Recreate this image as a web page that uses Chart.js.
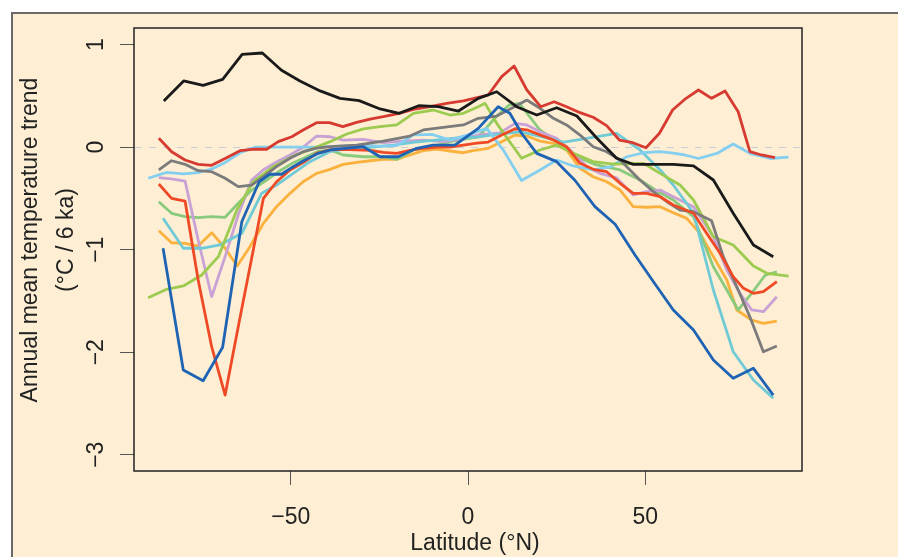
<!DOCTYPE html>
<html><head><meta charset="utf-8">
<script src="https://cdn.jsdelivr.net/npm/chart.js@4.4.1/dist/chart.umd.min.js"></script>
<style>html,body{margin:0;padding:0;background:#fff;overflow:hidden}canvas{display:block}</style>
</head><body>
<canvas id="c" width="898" height="557"></canvas>
<script>
const xTickValues = [-50, 0, 50];
const yTickValues = [1, 0, -1, -2, -3];
const xTitle = "Latitude (°N)";
const yTitle1 = "Annual mean temperature trend";
const yTitle2 = "(°C / 6 ka)";

const blackLat = [-85.8,-80.2,-74.7,-69.2,-63.7,-58.0,-52.6,-47.4,-41.7,-36.1,-30.7,-24.8,-19.4,-13.9,-8.4,-2.7,2.9,8.1,13.7,19.4,25.0,30.7,36.3,41.9,46.6,52.3,57.9,63.6,69.2,74.8,80.5,86.1];
const blackVal = [0.45,0.646,0.604,0.662,0.906,0.919,0.75,0.646,0.549,0.477,0.454,0.373,0.331,0.405,0.395,0.353,0.477,0.541,0.395,0.314,0.385,0.304,0.09,-0.108,-0.167,-0.167,-0.167,-0.183,-0.32,-0.645,-0.954,-1.068];

const darkRedLat = [-87.2,-83.6,-79.8,-76.1,-72.3,-68.1,-64.3,-60.1,-56.8,-53.5,-49.7,-46.5,-42.7,-39.1,-35.3,-31.4,-27.6,-23.9,-19.4,-15.4,-10.7,-6.0,-1.3,2.9,5.7,9.5,13.0,16.6,20.5,24.3,27.8,31.6,35.3,39.1,42.7,46.5,50.2,54.0,57.7,61.5,65.0,68.7,72.5,76.2,79.5,82.8,86.6];
const darkRedVal = [0.087,-0.044,-0.125,-0.167,-0.177,-0.102,-0.034,-0.018,-0.02,0.054,0.102,0.168,0.239,0.239,0.2,0.243,0.275,0.298,0.331,0.37,0.395,0.428,0.451,0.487,0.509,0.688,0.792,0.558,0.395,0.444,0.395,0.337,0.292,0.21,0.07,0.044,-0.005,0.136,0.363,0.477,0.558,0.477,0.548,0.346,-0.044,-0.076,-0.102];

const orangeRedLat = [-87.2,-83.6,-79.8,-76.1,-72.3,-68.5,-64.8,-61.0,-57.7,-54.0,-50.2,-46.5,-42.7,-39.0,-35.2,-31.4,-27.6,-23.9,-20.1,-16.4,-12.6,-8.8,-5.1,-1.3,2.5,5.7,9.5,13.3,16.6,20.3,24.1,27.8,31.6,35.3,39.1,42.9,46.6,50.4,54.2,57.9,63.6,67.3,71.1,74.8,77.7,80.5,83.3,87.1];
const orangeRedVal = [-0.359,-0.499,-0.525,-1.296,-1.946,-2.418,-1.751,-1.081,-0.499,-0.337,-0.222,-0.15,-0.06,-0.027,-0.02,-0.027,-0.03,-0.05,-0.06,-0.03,-0.01,0.0,0.0,0.02,0.04,0.05,0.12,0.18,0.17,0.12,0.07,0.005,-0.157,-0.216,-0.239,-0.352,-0.45,-0.45,-0.483,-0.564,-0.645,-0.84,-1.035,-1.263,-1.377,-1.426,-1.41,-1.312];

const grayLat = [-87.2,-83.6,-79.8,-76.1,-72.3,-68.5,-64.8,-61.0,-57.7,-54.0,-50.2,-46.5,-42.7,-38.9,-31.4,-23.9,-16.4,-12.6,-7.0,-1.3,2.9,8.1,12.3,16.6,20.3,24.1,27.8,31.6,35.3,39.1,42.9,48.5,52.3,56.1,59.8,63.6,68.7,72.0,75.8,79.5,83.3,87.1];
const grayVal = [-0.222,-0.132,-0.167,-0.229,-0.239,-0.303,-0.385,-0.369,-0.288,-0.19,-0.108,-0.044,-0.008,0.005,0.021,0.06,0.109,0.168,0.194,0.217,0.282,0.304,0.38,0.46,0.38,0.282,0.217,0.119,0.005,-0.044,-0.125,-0.32,-0.434,-0.532,-0.613,-0.629,-0.717,-1.068,-1.361,-1.654,-1.995,-1.94];

const lavenderLat = [-87.2,-83.6,-79.8,-76.1,-72.3,-68.5,-64.8,-61.0,-57.7,-54.0,-50.2,-46.5,-42.7,-38.9,-35.2,-29.5,-23.9,-18.3,-12.6,-7.0,-1.3,2.9,9.0,13.3,16.6,20.3,25.0,28.8,33.5,37.2,41.9,46.6,50.4,54.2,57.9,63.6,69.2,73.0,76.7,80.0,83.3,87.1];
const lavenderVal = [-0.296,-0.31,-0.33,-0.905,-1.459,-1.068,-0.66,-0.32,-0.22,-0.144,-0.076,0.0,0.109,0.102,0.07,0.077,0.044,0.06,0.07,0.054,0.087,0.119,0.14,0.233,0.217,0.151,0.087,-0.027,-0.19,-0.255,-0.3,-0.466,-0.434,-0.418,-0.483,-0.58,-0.873,-1.198,-1.425,-1.588,-1.605,-1.459];

const lightGreenLat = [-87.2,-83.6,-79.8,-76.1,-72.3,-68.5,-64.8,-61.0,-57.2,-53.5,-49.7,-46.0,-42.2,-38.9,-35.2,-29.5,-23.9,-20.1,-15.4,-10.7,-5.1,2.9,8.0,11.5,14.5,20.3,25.0,30.7,36.0,42.9,48.5,53.0,57.9,63.6,69.2,73.0,76.2,80.0,83.8,87.1];
const lightGreenVal = [-0.532,-0.645,-0.678,-0.688,-0.678,-0.684,-0.547,-0.418,-0.33,-0.24,-0.16,-0.1,-0.04,-0.027,-0.076,-0.093,-0.093,-0.118,-0.027,0.0,0.054,0.1,0.3,0.41,0.428,0.168,0.054,-0.093,-0.17,-0.222,-0.32,-0.42,-0.515,-0.678,-1.166,-1.393,-1.588,-1.425,-1.249,-1.215];

const yellowGreenLat = [-90.2,-85.0,-80.3,-75.1,-70.4,-65.2,-60.6,-54.9,-49.3,-43.6,-38.9,-34.2,-29.5,-24.8,-20.1,-15.4,-9.8,-5.1,-1.3,2.9,4.8,8.1,11.4,15.1,20.3,25.0,29.7,35.3,41.0,49.5,54.2,59.8,63.6,69.2,74.8,80.5,84.3,90.4];
const yellowGreenVal = [-1.468,-1.386,-1.354,-1.247,-1.068,-0.613,-0.337,-0.19,-0.086,-0.011,0.054,0.129,0.178,0.2,0.217,0.331,0.363,0.314,0.331,0.395,0.428,0.233,0.07,-0.108,-0.027,0.021,-0.06,-0.141,-0.164,-0.157,-0.255,-0.369,-0.515,-0.873,-0.954,-1.159,-1.23,-1.257];

const orangeLat = [-87.2,-83.6,-79.8,-76.1,-72.3,-68.5,-65.1,-61.5,-57.7,-54.0,-50.2,-46.5,-42.7,-38.9,-35.2,-31.4,-27.6,-23.9,-20.1,-16.4,-12.6,-8.8,-5.1,-1.3,1.5,5.7,9.5,13.3,16.6,20.3,24.1,27.8,31.6,35.3,39.1,42.9,46.6,50.4,54.2,57.9,61.7,65.4,69.2,73.0,75.8,80.0,83.3,87.1];
const orangeVal = [-0.815,-0.932,-0.938,-0.964,-0.834,-0.986,-1.159,-0.971,-0.742,-0.58,-0.45,-0.337,-0.255,-0.216,-0.167,-0.147,-0.132,-0.118,-0.118,-0.076,-0.034,-0.018,-0.037,-0.054,-0.034,-0.011,0.054,0.119,0.109,0.06,0.038,-0.027,-0.206,-0.288,-0.337,-0.418,-0.58,-0.586,-0.58,-0.639,-0.694,-0.84,-1.068,-1.296,-1.588,-1.686,-1.718,-1.696];

const tealLat = [-86.0,-80.3,-75.1,-70.0,-63.8,-58.2,-54.0,-49.3,-44.6,-39.0,-33,-27,-21,-15,-9,-3,3,9,15,21,27,33.5,41.9,48.5,54.2,57.9,63.6,69.2,74.8,80.5,86.1];
const tealVal = [-0.694,-0.986,-0.986,-0.954,-0.84,-0.45,-0.369,-0.255,-0.141,-0.044,-0.01,0.0,0.02,0.05,0.07,0.09,0.1,0.13,0.15,0.1,0.05,0.087,0.136,-0.027,-0.222,-0.369,-0.642,-1.393,-1.995,-2.271,-2.45];

const skyBlueLat = [-90.2,-85.0,-80.3,-76.1,-71.8,-68.1,-64.3,-60.1,-54,-48,-42,-36,-30,-25,-20.1,-15.4,-10.2,-5.1,0,5.3,10,15.1,20.3,25.0,29.7,35.3,40.1,44.8,49.5,54.2,57.9,61.2,65.0,70.2,74.8,79.5,85.2,90.4];
const skyBlueVal = [-0.303,-0.245,-0.261,-0.249,-0.206,-0.141,-0.054,0.0,0.0,0.0,0.0,0.01,0.02,0.01,0.015,0.12,0.126,0.07,0.12,0.184,-0.03,-0.325,-0.222,-0.125,-0.183,-0.222,-0.193,-0.093,-0.054,-0.044,-0.057,-0.076,-0.11,-0.061,0.031,-0.06,-0.11,-0.096];

const blueLat = [-86.0,-80.3,-74.7,-69.2,-63.8,-58.9,-55.9,-52.6,-49.3,-46.0,-42.2,-38.9,-29.5,-24.8,-19.7,-14.5,-9.8,-3.7,2.9,8.5,11.8,15.1,19.4,25.0,30.2,35.8,41.5,47.1,52.3,57.9,63.6,69.2,74.8,80.5,86.1];
const blueVal = [-0.986,-2.174,-2.278,-1.952,-0.727,-0.337,-0.264,-0.264,-0.19,-0.125,-0.06,-0.027,0.005,-0.093,-0.093,-0.011,0.021,0.021,0.184,0.395,0.331,0.136,-0.06,-0.141,-0.325,-0.58,-0.752,-1.052,-1.312,-1.588,-1.783,-2.076,-2.255,-2.157,-2.418];

const seriesList = [
  {lat: blackLat, val: blackVal, color: '#1a1a1a'},
  {lat: blueLat, val: blueVal, color: '#1f63b4'},
  {lat: darkRedLat, val: darkRedVal, color: '#d63a30'},
  {lat: orangeRedLat, val: orangeRedVal, color: '#ef4a25'},
  {lat: grayLat, val: grayVal, color: '#7b7b7b'},
  {lat: yellowGreenLat, val: yellowGreenVal, color: '#9ccb4f'},
  {lat: skyBlueLat, val: skyBlueVal, color: '#84cff0'},
  {lat: tealLat, val: tealVal, color: '#6fcad6'},
  {lat: lavenderLat, val: lavenderVal, color: '#c8a2d6'},
  {lat: lightGreenLat, val: lightGreenVal, color: '#89ca7c'},
  {lat: orangeLat, val: orangeVal, color: '#fbb13d'}
];

const datasets = seriesList.map(s => ({
  data: s.lat.map((x, i) => ({x: x, y: s.val[i]})),
  borderColor: s.color,
  borderWidth: 2.8,
  showLine: true,
  pointRadius: 0,
  fill: false,
  tension: 0,
  borderJoinStyle: 'round',
  borderCapStyle: 'butt'
}));

const FONT = '"Liberation Sans", Arial, Helvetica, sans-serif';
const PEACH = '#feefd4';

const decor = {
  id: 'decor',
  beforeDraw(chart) {
    const ctx = chart.ctx;
    ctx.save();
    ctx.fillStyle = '#ffffff';
    ctx.fillRect(0, 0, chart.width, chart.height);
    ctx.fillStyle = PEACH;
    ctx.fillRect(12, 13, chart.width - 12, chart.height - 13);
    ctx.strokeStyle = '#6a6a6a';
    ctx.lineWidth = 2;
    ctx.beginPath();
    ctx.moveTo(12, chart.height); ctx.lineTo(12, 13); ctx.lineTo(chart.width, 13);
    ctx.stroke();
    ctx.restore();
  },
  beforeDatasetsDraw(chart) {
    const ctx = chart.ctx, a = chart.chartArea, ys = chart.scales.y;
    const y0 = Math.round(ys.getPixelForValue(0)) + 0.5;
    ctx.save();
    ctx.strokeStyle = '#c9cdd8';
    ctx.lineWidth = 1;
    ctx.setLineDash([7, 7]);
    ctx.beginPath();
    ctx.moveTo(a.left + 1, y0); ctx.lineTo(a.right - 1, y0);
    ctx.stroke();
    ctx.restore();
  },
  afterDraw(chart) {
    const ctx = chart.ctx, a = chart.chartArea, xs = chart.scales.x, ys = chart.scales.y;
    ctx.save();
    ctx.strokeStyle = '#222';
    ctx.lineWidth = 1.5;
    ctx.strokeRect(a.left, a.top, a.right - a.left, a.bottom - a.top);
    ctx.fillStyle = '#222';
    ctx.font = '23px ' + FONT;
    ctx.textAlign = 'center';
    ctx.textBaseline = 'middle';
    xTickValues.forEach(v => {
      const label = v < 0 ? '\u2212' + Math.abs(v) : String(v);
      ctx.fillText(label, xs.getPixelForValue(v), 518);
    });
    ctx.fillText(xTitle, (a.left + a.right) / 2 + 7, 544);
    yTickValues.forEach(v => {
      const label = v < 0 ? '\u2212' + Math.abs(v) : String(v);
      ctx.save();
      ctx.translate(97, ys.getPixelForValue(v));
      ctx.rotate(-Math.PI / 2);
      ctx.fillText(label, 0, 0);
      ctx.restore();
    });
    ctx.save();
    ctx.translate(31, 240);
    ctx.rotate(-Math.PI / 2);
    ctx.fillText(yTitle1, 0, 0);
    ctx.restore();
    ctx.save();
    ctx.translate(67, 240);
    ctx.rotate(-Math.PI / 2);
    ctx.fillText(yTitle2, 0, 0);
    ctx.restore();
    ctx.restore();
  }
};

new Chart(document.getElementById('c'), {
  type: 'scatter',
  data: { datasets: datasets },
  options: {
    responsive: false,
    animation: false,
    devicePixelRatio: 1,
    layout: { padding: { top: 28, right: 96, left: 0, bottom: 0 } },
    plugins: { legend: { display: false }, tooltip: { enabled: false } },
    scales: {
      x: {
        type: 'linear', min: -94.2, max: 94.2,
        afterBuildTicks: s => { s.ticks = xTickValues.map(v => ({ value: v })); },
        afterFit: s => { s.height = 86; },
        grid: { drawOnChartArea: false, drawTicks: true, tickLength: 14, color: '#555', lineWidth: 1 },
        border: { display: false },
        ticks: { display: false }
      },
      y: {
        type: 'linear', min: -3.159, max: 1.163,
        afterBuildTicks: s => { s.ticks = yTickValues.map(v => ({ value: v })); },
        afterFit: s => { s.width = 134; },
        grid: { drawOnChartArea: false, drawTicks: true, tickLength: 14, color: '#555', lineWidth: 1 },
        border: { display: false },
        ticks: { display: false }
      }
    }
  },
  plugins: [decor]
});
</script>
</body></html>
